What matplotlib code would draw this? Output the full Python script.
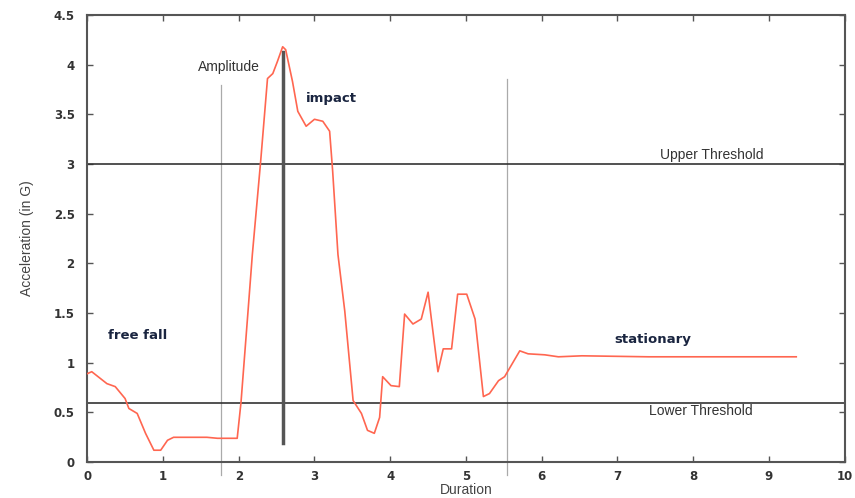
import matplotlib
matplotlib.use("Agg")
import matplotlib.pyplot as plt

# data
duration = [0.00, 0.06, 0.26, 0.37, 0.50, 0.55, 0.66, 0.77, 0.88, 0.97, 1.06, 1.14, 1.58, 1.72, 1.98,
            2.03, 2.12, 2.18, 2.29, 2.38, 2.45, 2.51, 2.58, 2.62, 2.71, 2.78, 2.89, 3.00, 3.11, 3.20,
            3.24, 3.31, 3.40, 3.51, 3.62, 3.70, 3.79, 3.86, 3.90, 4.01, 4.12, 4.19, 4.30, 4.41, 4.50,
            4.54, 4.63, 4.70, 4.81, 4.89, 5.01, 5.12, 5.23, 5.31, 5.43, 5.51, 5.71, 5.82, 6.04, 6.22,
            6.53, 7.41, 7.85, 8.74, 9.36]
acceleration = [0.89, 0.91, 0.79, 0.76, 0.64, 0.54, 0.49, 0.29, 0.12, 0.12, 0.22, 0.25, 0.25, 0.24, 0.24,
                0.60, 1.49, 2.09, 3.03, 3.86, 3.91, 4.03, 4.18, 4.15, 3.83, 3.53, 3.38, 3.45, 3.43, 3.33,
                2.93, 2.09, 1.52, 0.62, 0.49, 0.32, 0.29, 0.45, 0.86, 0.77, 0.76, 1.49, 1.39, 1.44, 1.71,
                1.46, 0.91, 1.14, 1.14, 1.69, 1.69, 1.44, 0.66, 0.69, 0.82, 0.86, 1.12, 1.09, 1.08, 1.06,
                1.07, 1.06, 1.06, 1.06, 1.06]

upper_threshold = 3.0
lower_threshold = 0.6
window_start = 1.76
window_end = 5.54
impact_time = 2.58
impact_span = (0.19, 4.13)

x_ticks = [0, 1, 2, 3, 4, 5, 6, 7, 8, 9, 10]
y_ticks = [0, 0.5, 1, 1.5, 2, 2.5, 3, 3.5, 4, 4.5]
y_tick_labels = ["0", "0.5", "1", "1.5", "2", "2.5", "3", "3.5", "4", "4.5"]

fig = plt.figure(figsize=(8.55, 4.98), dpi=100)
ax = fig.add_axes([0.102, 0.072, 0.886, 0.898])
ax.set_xlim(0, 10)
ax.set_ylim(0, 4.5)

ax.axhline(upper_threshold, color="#333333", lw=1.2, zorder=2)
ax.axhline(lower_threshold, color="#333333", lw=1.2, zorder=2)
ax.plot([window_start, window_start], [-0.13, 3.8], color="#aaaaaa", lw=0.9, clip_on=False, zorder=1)
ax.plot([window_end, window_end], [-0.13, 3.86], color="#aaaaaa", lw=0.9, clip_on=False, zorder=1)
ax.plot([impact_time, impact_time], list(impact_span), color="#555555", lw=2.5, zorder=2)

ax.plot(duration, acceleration, color="#ff6650", lw=1.2, zorder=3)

ax.text(1.87, 3.98, "Amplitude", ha="center", va="center", fontsize=10,
        color="#333333", family="Liberation Sans")
ax.text(3.22, 3.66, "impact", ha="center", va="center", fontsize=9.5,
        color="#1a2540", fontweight="bold", family="DejaVu Sans")
ax.text(0.66, 1.27, "free fall", ha="center", va="center", fontsize=9.5,
        color="#1a2540", fontweight="bold", family="DejaVu Sans")
ax.text(7.46, 1.23, "stationary", ha="center", va="center", fontsize=9.5,
        color="#1a2540", fontweight="bold", family="DejaVu Sans")
ax.text(8.25, 3.09, "Upper Threshold", ha="center", va="center", fontsize=10,
        color="#333333", family="Liberation Sans")
ax.text(8.1, 0.51, "Lower Threshold", ha="center", va="center", fontsize=10,
        color="#333333", family="Liberation Sans")

ax.set_xticks(x_ticks)
ax.set_yticks(y_ticks)
ax.set_yticklabels(y_tick_labels)
ax.tick_params(direction="in", top=True, right=True, length=4, width=1,
               color="#555555", labelsize=8.5, labelcolor="#333333")
ax.tick_params(axis="x", pad=6)
ax.tick_params(axis="y", pad=9)
for lab in ax.get_xticklabels() + ax.get_yticklabels():
    lab.set_fontweight("bold")
for s in ax.spines.values():
    s.set_color("#555555")
    s.set_linewidth(1.5)

ax.set_xlabel("Duration", fontsize=10, color="#444444", family="Liberation Sans", labelpad=0)
ax.set_ylabel("Acceleration (in G)", fontsize=10, color="#444444", family="Liberation Sans", labelpad=14)

fig.savefig("out.png", dpi=100)
